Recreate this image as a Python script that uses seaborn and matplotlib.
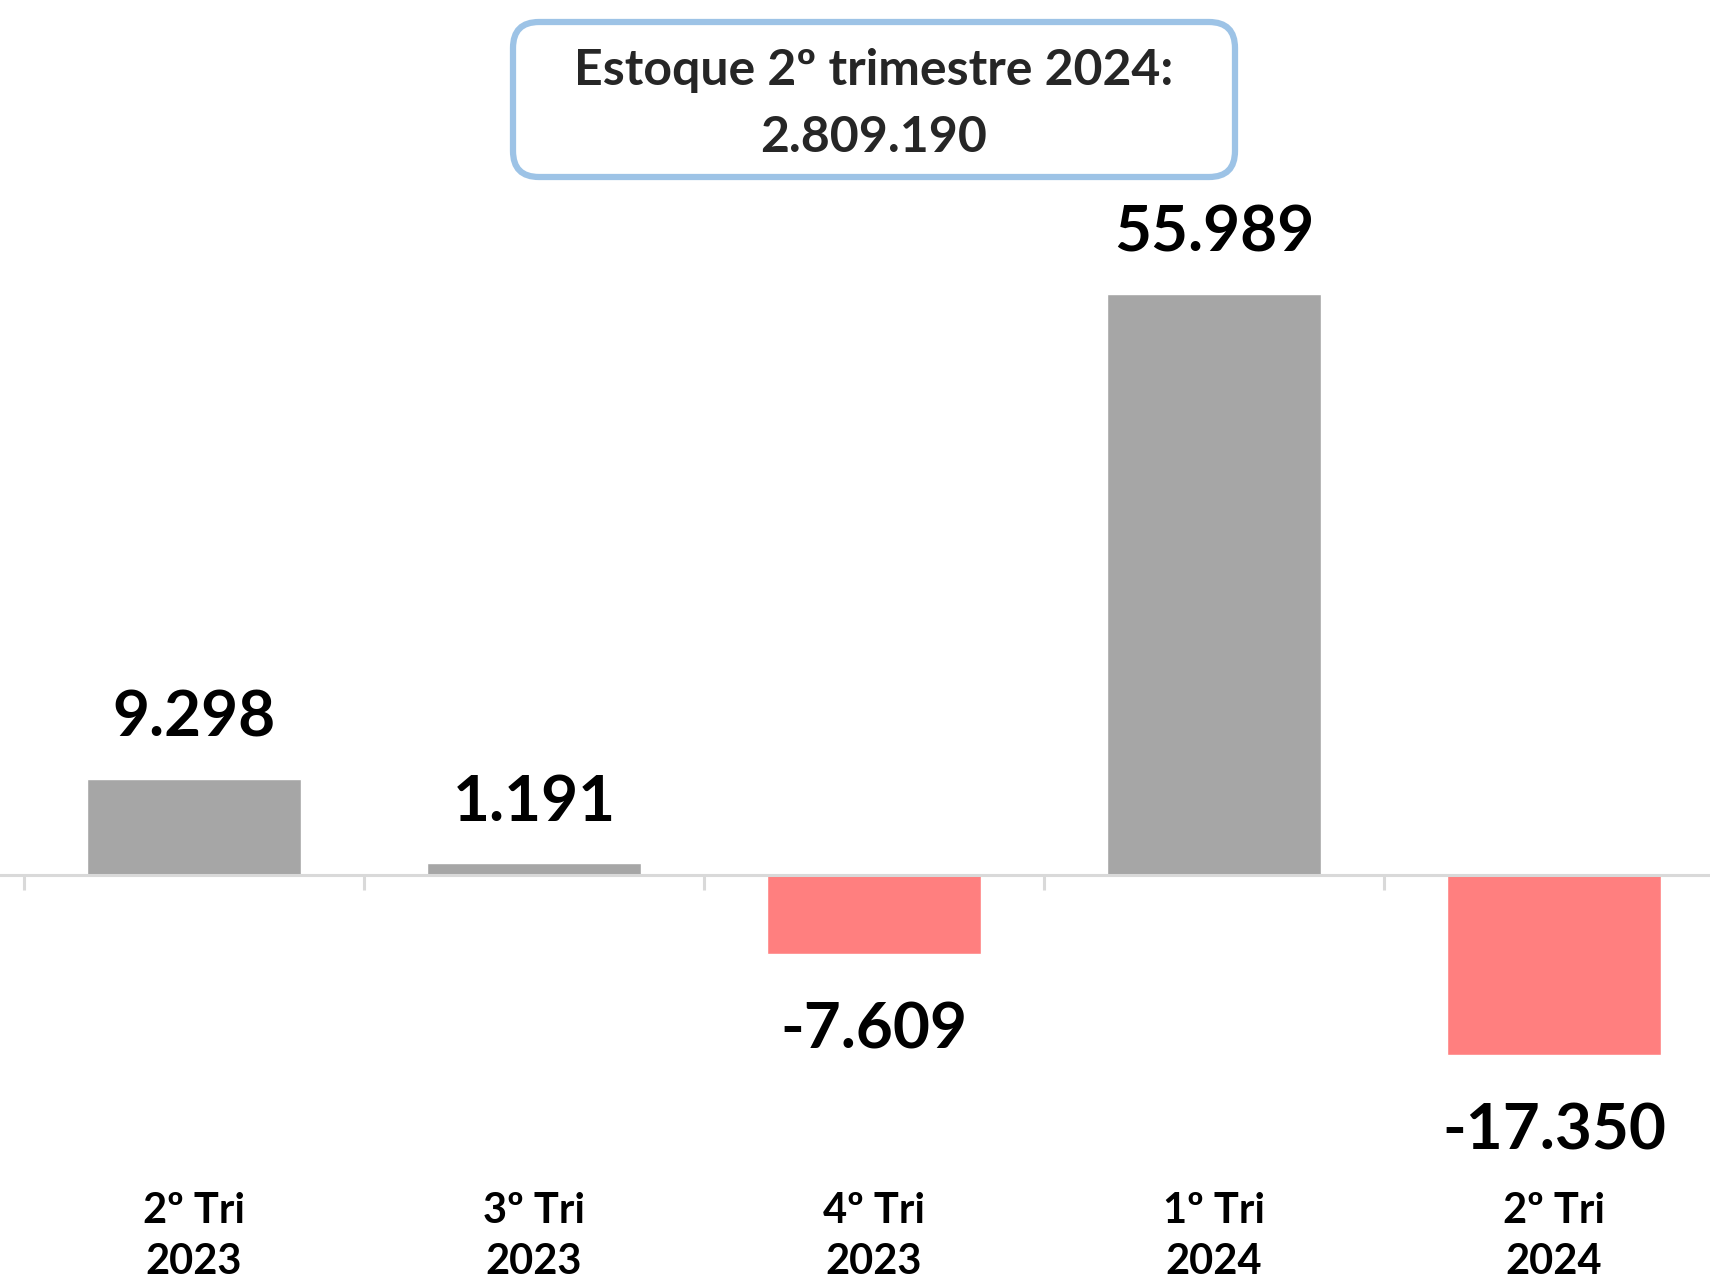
import matplotlib
matplotlib.use("Agg")
import matplotlib.pyplot as plt
import matplotlib.transforms as mtransforms
from matplotlib.patches import FancyBboxPatch
import seaborn as sns
import pandas as pd

# dados
trimestres = ["2º Tri\n2023", "3º Tri\n2023", "4º Tri\n2023", "1º Tri\n2024", "2º Tri\n2024"]
saldo = [9298, 1191, -7609, 55989, -17350]
estoque_txt = "Estoque 2º trimestre 2024:\n2.809.190"

cinza = "#A6A6A6"
vermelho = "#FF7F7F"
cores = [cinza if v >= 0 else vermelho for v in saldo]

sns.set_theme(style="white")
plt.rcParams["font.family"] = ["Lato", "DejaVu Sans"]
plt.rcParams["font.weight"] = "bold"

df = pd.DataFrame({"tri": trimestres, "saldo": saldo})

fig = plt.figure(figsize=(17.1, 12.79), dpi=100)
ax = fig.add_axes([0, 0, 1, 1])
sns.barplot(data=df, x="tri", y="saldo", hue="tri", palette=cores,
            width=0.63, legend=False, ax=ax, saturation=1)

for s in ["top", "right", "left"]:
    ax.spines[s].set_visible(False)
ax.spines["bottom"].set_position(("data", 0))
ax.spines["bottom"].set_color("#D9D9D9")
ax.spines["bottom"].set_linewidth(2.2)
ax.set_yticks([])
ax.set_xticks([])
ax.set_xticks([i - 0.5 for i in range(len(saldo) + 1)], minor=True)
ax.tick_params(axis="x", which="minor", direction="out", length=11,
               width=2.2, color="#D9D9D9", labelbottom=False, bottom=True)
ax.set_xlabel("")
ax.set_ylabel("")

# limites (depois dos ticks, que ampliam a vista)
left = -0.5 - 24 / 340
ax.set_xlim(left, left + 1710 / 340)
ax.set_ylim(-38900, 84300)

# rótulos de valor
for i, v in enumerate(saldo):
    txt = f"{v:,}".replace(",", ".")
    if v >= 0:
        ax.annotate(txt, (i, v), xytext=(0, 23), textcoords="offset points",
                    ha="center", va="bottom", fontsize=46, fontweight="bold",
                    color="black")
    else:
        ax.annotate(txt, (i, v), xytext=(0, -34), textcoords="offset points",
                    ha="center", va="top", fontsize=46, fontweight="bold",
                    color="black")

# rótulos das categorias
trans = mtransforms.blended_transform_factory(ax.transData, ax.transAxes)
for i, t in enumerate(trimestres):
    ax.text(i, 0.033, t, transform=trans, ha="center", va="center",
            fontsize=30, fontweight="bold", color="black", linespacing=1.43)

# caixa do estoque
box = FancyBboxPatch((513, 1102), 722, 155,
                     boxstyle="round,pad=0,rounding_size=26",
                     transform=mtransforms.IdentityTransform(),
                     facecolor="white", edgecolor="#9DC3E6", linewidth=4.5)
fig.patches.append(box)
fig.text(874 / 1710, 1 - 104 / 1279, estoque_txt, ha="center", va="center",
         fontsize=36, fontweight="bold", color="#262626", linespacing=1.62)

fig.savefig("out.png", dpi=100)
